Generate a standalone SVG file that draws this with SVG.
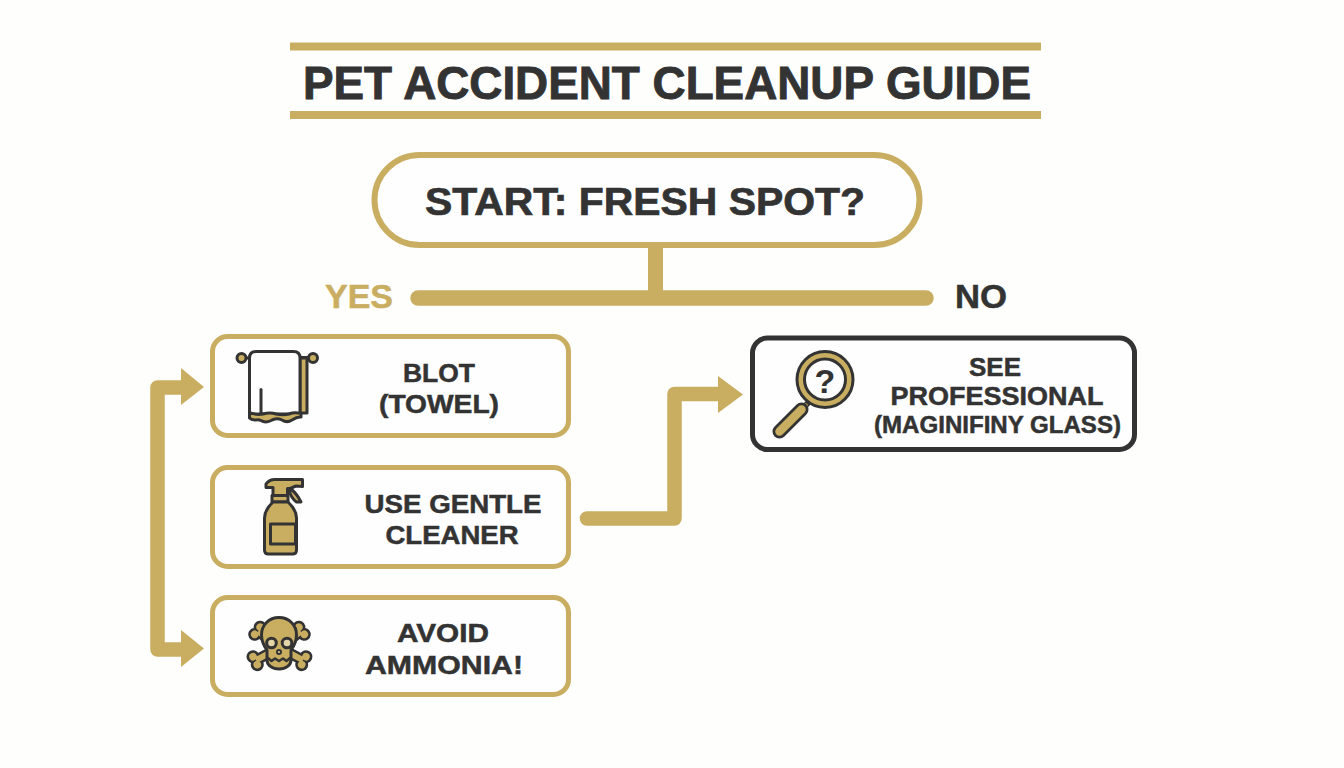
<svg xmlns="http://www.w3.org/2000/svg" width="1344" height="768" viewBox="0 0 1344 768">
<style>
.t{font-family:"Liberation Sans",Arial,sans-serif;font-weight:700;fill:#333;stroke:#333;stroke-width:.5;text-anchor:middle}
.box{fill:#fefefe;stroke:#c9ae62;stroke-width:5}
.ic{stroke:#333;stroke-width:3;stroke-linejoin:round;stroke-linecap:round}
.g{fill:#c9ae62}
.w{fill:#fefefe}
.n{fill:none}
.conn{fill:none;stroke:#c9ae62;stroke-width:14.5;stroke-linejoin:round;stroke-linecap:round}
.head{fill:#c9ae62}
</style>
<defs>
<g id="bone" stroke="none">
<path d="M0 0H-26" stroke="#333" stroke-width="11"/>
<circle cx="-27" cy="-4.500" r="6.500" fill="#333"/>
<circle cx="-27" cy="4.500" r="6.500" fill="#333"/>
<path d="M0 0H-26" stroke="#c9ae62" stroke-width="6"/>
<circle cx="-27" cy="-4.500" r="3.800" fill="#c9ae62"/>
<circle cx="-27" cy="4.500" r="3.800" fill="#c9ae62"/>
</g>
</defs>
<rect width="1344" height="768" fill="#fefefd"/>
<g id="title">
<rect x="290" y="42.500" width="751" height="8" class="g"/>
<rect x="290" y="111" width="751" height="8" class="g"/>
<text class="t" x="667" y="99" font-size="46.500" textLength="728" lengthAdjust="spacingAndGlyphs" style="stroke-width:.9">PET ACCIDENT CLEANUP GUIDE</text>
</g>
<g id="connectors">
<path d="M655.500 247V298" fill="none" stroke="#c9ae62" stroke-width="15"/>
<path d="M418 298H926" fill="none" stroke="#c9ae62" stroke-width="15.500" stroke-linecap="round"/>
<path class="conn" d="M182 387.500H157.500V649.500H182"/>
<path class="head" d="M181 368L204 387L181 405Z"/>
<path class="head" d="M181 630L204 648.500L181 667Z"/>
<path class="conn" d="M587 518.500H674.500V394H720"/>
<path class="head" d="M718 376L743 394.500L718 413Z"/>
</g>
<g id="start">
<rect class="box" x="374.500" y="155" width="545" height="90" rx="45" style="stroke-width:6"/>
<text class="t" x="645" y="215" font-size="39" textLength="440" lengthAdjust="spacingAndGlyphs" style="stroke-width:.7">START: FRESH SPOT?</text>
</g>
<g id="yes"><text class="t" x="359" y="308" font-size="33.500" style="fill:#c9ae62;stroke:#c9ae62" textLength="68" lengthAdjust="spacingAndGlyphs">YES</text></g>
<g id="no"><text class="t" x="981" y="308" font-size="33.500" textLength="52" lengthAdjust="spacingAndGlyphs">NO</text></g>
<g id="blot">
<rect class="box" x="212.500" y="336.500" width="356" height="99" rx="15"/>
<g class="ic">
<path class="g" d="M300 357.500H307V413H300Z"/>
<path class="n" d="M245 358H309"/>
<circle class="g" cx="241.500" cy="358" r="4.500"/>
<circle class="g" cx="313" cy="358" r="4.500"/>
<path class="w" d="M249.500 414V358Q249.500 351.500 256 351.500H293.500Q300 351.500 300 358V414Z"/>
<path class="g" d="M249.500 412.500C254 414.500 258 415 263 414C268 412.500 272 412.500 276 414C281 415 285 415 289 414C293 412.500 297 412.500 301 413.500V417C297 416.500 295 418 292 420C288 422.500 285 422 282 420C278 418 275 418 271 420.500C267 422.500 264 422.500 261 420.500C257 418.500 253 422 249.500 418Z"/>
<path class="n" d="M261 389.500V413"/>
</g>
<text class="t" x="439" y="381.500" font-size="26" textLength="72" lengthAdjust="spacingAndGlyphs">BLOT</text>
<text class="t" x="439" y="413" font-size="26" textLength="120" lengthAdjust="spacingAndGlyphs">(TOWEL)</text>
</g>
<g id="cleaner">
<rect class="box" x="212.500" y="467.500" width="356" height="99" rx="15"/>
<g class="ic">
<path class="g" d="M291 489Q297 494 301 502H296.500Q291 498 289.500 491Z"/>
<path class="g" d="M266 484Q269 479.500 275 479.500H302.500V486.500L296 486L290 488.500H287.500V495.500H273V487.500H266Z"/>
<rect class="g" x="272" y="495.500" width="16" height="6.500"/>
<path class="g" d="M273 502H288Q296.500 510 296.500 518V550Q296.500 554 292.500 554H268.500Q264.500 554 264.500 550V518Q264.500 510 273 502Z"/>
<rect class="g" x="270.500" y="524" width="25" height="20"/>
</g>
<text class="t" x="453" y="512.500" font-size="26" textLength="177" lengthAdjust="spacingAndGlyphs">USE GENTLE</text>
<text class="t" x="452" y="544" font-size="26" textLength="133" lengthAdjust="spacingAndGlyphs">CLEANER</text>
</g>
<g id="avoid">
<rect class="box" x="212.500" y="597.500" width="356" height="97" rx="15"/>
<use href="#bone" transform="translate(279 647) rotate(37)"/>
<use href="#bone" transform="translate(280 647) rotate(143)"/>
<use href="#bone" transform="translate(279 648) rotate(-28)"/>
<use href="#bone" transform="translate(280 648) rotate(-152)"/>
<g class="ic">
<path class="g" d="M261.500 635C261.500 625 269 617.500 279 617.500C289 617.500 296.500 625 296.500 635C296.500 642 294 646 291 650V660C291 665 286 669 279 669C272 669 267 665 267 660V650C264 646 261.500 642 261.500 635Z"/>
<circle cx="271.500" cy="643" r="4.800" fill="#e3d5a8"/>
<circle cx="287" cy="643" r="4.800" fill="#e3d5a8"/>
<circle cx="279" cy="652" r="2" fill="#e3d5a8" stroke-width="2"/>
<path class="n" d="M268 658L271.500 661L275 658.500L279 661L283 658.500L286.500 661L290 658" stroke-width="2.500"/>
</g>
<text class="t" x="443" y="641.500" font-size="26" textLength="92" lengthAdjust="spacingAndGlyphs">AVOID</text>
<text class="t" x="444" y="674" font-size="26" textLength="158" lengthAdjust="spacingAndGlyphs">AMMONIA!</text>
</g>
<g id="professional">
<rect class="box" x="752.500" y="338" width="382" height="111.500" rx="15" style="stroke:#333"/>
<path d="M807 404L779.500 431.500" stroke="#333" stroke-width="6" stroke-linecap="round"/>
<path d="M807 404L802 409" stroke="#c9ae62" stroke-width="3"/>
<path d="M801.500 409.500L779.500 431.500" stroke="#333" stroke-width="14" stroke-linecap="round"/>
<path d="M801.500 409.500L779.500 431.500" stroke="#c9ae62" stroke-width="8.500" stroke-linecap="round"/>
<g class="ic">
<circle class="g" cx="825" cy="379.500" r="28"/>
<circle class="w" cx="825" cy="379.500" r="20.500"/>
</g>
<text class="t" x="825" y="392.500" font-size="34" style="stroke-width:0">?</text>
<text class="t" x="995" y="376" font-size="26" textLength="52" lengthAdjust="spacingAndGlyphs">SEE</text>
<text class="t" x="997" y="405" font-size="26" textLength="213" lengthAdjust="spacingAndGlyphs">PROFESSIONAL</text>
<text class="t" x="997.500" y="433" font-size="23.500" textLength="247" lengthAdjust="spacingAndGlyphs">(MAGINIFINY GLASS)</text>
</g>
</svg>
